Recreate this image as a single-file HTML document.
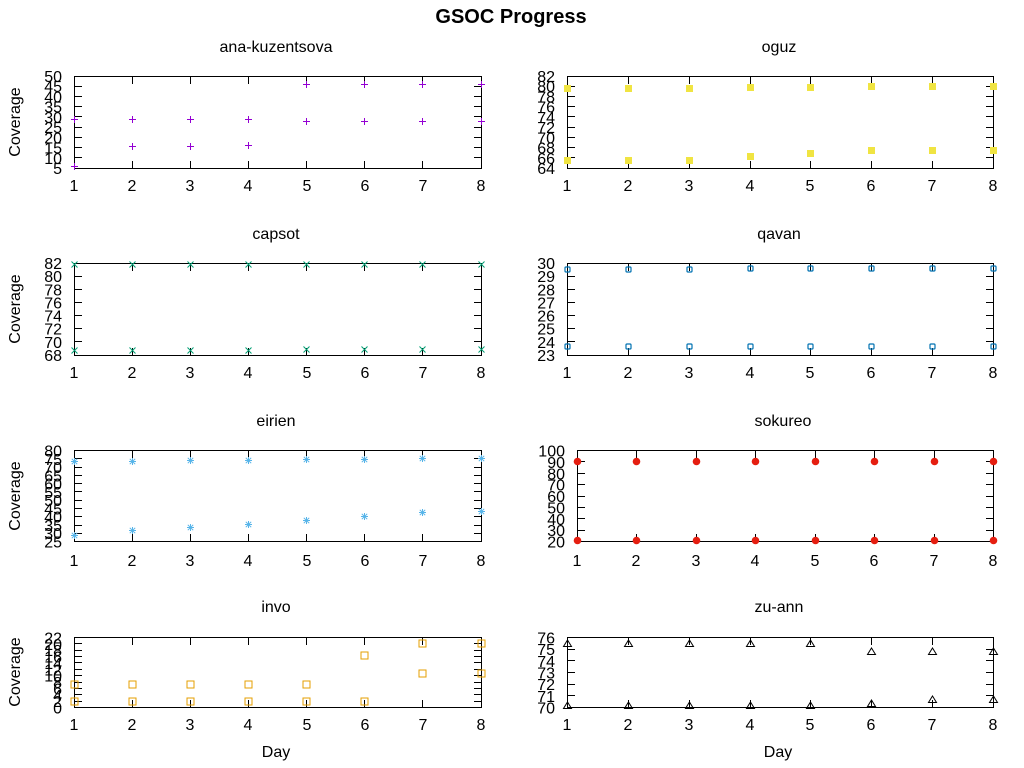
<!DOCTYPE html>
<html><head><meta charset="utf-8"><style>
html,body{margin:0;padding:0;background:#fff;}
svg{display:block;}
text{font-family:"Liberation Sans",Arial,sans-serif;fill:#000;}
</style></head><body>
<svg width="1024" height="768" viewBox="0 0 1024 768" xmlns="http://www.w3.org/2000/svg">
<defs>
<path id="mPlus" d="M-3.5,0h7M0,-3.5v7" stroke="#9400d3" stroke-width="1" fill="none"/>
<path id="mCross" d="M-3,-3L3,3M-3,3L3,-3" stroke="#009e73" stroke-width="1" fill="none"/>
<path id="mStar" d="M-3.5,0h7M0,-3.5v7M-2.7,-2.7L2.7,2.7M-2.7,2.7L2.7,-2.7" stroke="#56b4e9" stroke-width="1" fill="none"/>
<rect id="mOSq" x="-3.5" y="-3.5" width="7" height="7" stroke="#e69f00" stroke-width="1" fill="none"/>
<rect id="mFSq" x="-3.5" y="-3.5" width="7" height="7" fill="#f0e442"/>
<rect id="mOCi" x="-2.5" y="-2.5" width="5" height="5" rx="1" stroke="#0072b2" stroke-width="1.2" fill="none"/>
<circle id="mFCi" r="3.8" fill="#e51e10"/>
<path id="mTri" d="M0,-3.5L4,3L-4,3Z" stroke="#000" stroke-width="1" fill="none"/>
</defs>

<text x="511" y="23" font-size="20" font-weight="bold" text-anchor="middle">GSOC Progress</text>

<!-- ===== Panel 1: ana-kuzentsova ===== -->
<text x="276" y="52" font-size="16" text-anchor="middle">ana-kuzentsova</text>
<text transform="translate(20,122) rotate(-90)" font-size="16" text-anchor="middle">Coverage</text>
<rect x="74.5" y="76.5" width="407" height="92" fill="none" stroke="#000" stroke-width="1"/>
<path stroke="#000" stroke-width="1" fill="none" d="M74,157.5h8M482,157.5h-8M74,147.5h8M482,147.5h-8M74,137.5h8M482,137.5h-8M74,127.5h8M482,127.5h-8M74,116.5h8M482,116.5h-8M74,106.5h8M482,106.5h-8M74,96.5h8M482,96.5h-8M74,86.5h8M482,86.5h-8
M132.5,169v-8M132.5,76v8M190.5,169v-8M190.5,76v8M248.5,169v-8M248.5,76v8M306.5,169v-8M306.5,76v8M364.5,169v-8M364.5,76v8M422.5,169v-8M422.5,76v8"/>
<g font-size="16" text-anchor="end">
<text x="62" y="174">5</text><text x="62" y="163.8">10</text><text x="62" y="153.6">15</text><text x="62" y="143.3">20</text><text x="62" y="133.1">25</text><text x="62" y="122.9">30</text><text x="62" y="112.7">35</text><text x="62" y="102.4">40</text><text x="62" y="92.2">45</text><text x="62" y="82">50</text>
</g>
<g font-size="16" text-anchor="middle">
<text x="74" y="191">1</text><text x="132" y="191">2</text><text x="190" y="191">3</text><text x="248" y="191">4</text><text x="307" y="191">5</text><text x="365" y="191">6</text><text x="423" y="191">7</text><text x="481" y="191">8</text>
</g>
<use href="#mPlus" x="74.5" y="166.5"/><use href="#mPlus" x="74.5" y="119.5"/>
<use href="#mPlus" x="132.5" y="146.5"/><use href="#mPlus" x="132.5" y="119.5"/>
<use href="#mPlus" x="190.5" y="146.5"/><use href="#mPlus" x="190.5" y="119.5"/>
<use href="#mPlus" x="248.5" y="145.5"/><use href="#mPlus" x="248.5" y="119.5"/>
<use href="#mPlus" x="306.5" y="84.5"/><use href="#mPlus" x="306.5" y="121.5"/>
<use href="#mPlus" x="364.5" y="84.5"/><use href="#mPlus" x="364.5" y="121.5"/>
<use href="#mPlus" x="422.5" y="84.5"/><use href="#mPlus" x="422.5" y="121.5"/>
<use href="#mPlus" x="481.5" y="84.5"/><use href="#mPlus" x="481.5" y="121.5"/>

<!-- ===== Panel 2: oguz ===== -->
<text x="779" y="52" font-size="16" text-anchor="middle">oguz</text>
<rect x="567.5" y="76.5" width="426" height="92" fill="none" stroke="#000" stroke-width="1"/>
<path stroke="#000" stroke-width="1" fill="none" d="M567,157.5h8M994,157.5h-8M567,147.5h8M994,147.5h-8M567,137.5h8M994,137.5h-8M567,127.5h8M994,127.5h-8M567,116.5h8M994,116.5h-8M567,106.5h8M994,106.5h-8M567,96.5h8M994,96.5h-8M567,86.5h8M994,86.5h-8
M628.5,169v-8M628.5,76v8M689.5,169v-8M689.5,76v8M750.5,169v-8M750.5,76v8M810.5,169v-8M810.5,76v8M871.5,169v-8M871.5,76v8M932.5,169v-8M932.5,76v8"/>
<g font-size="16" text-anchor="end">
<text x="555" y="174">64</text><text x="555" y="163.8">66</text><text x="555" y="153.6">68</text><text x="555" y="143.3">70</text><text x="555" y="133.1">72</text><text x="555" y="122.9">74</text><text x="555" y="112.7">76</text><text x="555" y="102.4">78</text><text x="555" y="92.2">80</text><text x="555" y="82">82</text>
</g>
<g font-size="16" text-anchor="middle">
<text x="567" y="191">1</text><text x="628" y="191">2</text><text x="689" y="191">3</text><text x="750" y="191">4</text><text x="810" y="191">5</text><text x="871" y="191">6</text><text x="932" y="191">7</text><text x="993" y="191">8</text>
</g>
<use href="#mFSq" x="567.5" y="88.5"/><use href="#mFSq" x="567.5" y="160.5"/>
<use href="#mFSq" x="628.5" y="88.5"/><use href="#mFSq" x="628.5" y="160.5"/>
<use href="#mFSq" x="689.5" y="88.5"/><use href="#mFSq" x="689.5" y="160.5"/>
<use href="#mFSq" x="750.5" y="87.5"/><use href="#mFSq" x="750.5" y="156.5"/>
<use href="#mFSq" x="810.5" y="87.5"/><use href="#mFSq" x="810.5" y="153.5"/>
<use href="#mFSq" x="871.5" y="86.5"/><use href="#mFSq" x="871.5" y="150.5"/>
<use href="#mFSq" x="932.5" y="86.5"/><use href="#mFSq" x="932.5" y="150.5"/>
<use href="#mFSq" x="993.5" y="86.5"/><use href="#mFSq" x="993.5" y="150.5"/>

<!-- ===== Panel 3: capsot ===== -->
<text x="276" y="239" font-size="16" text-anchor="middle">capsot</text>
<text transform="translate(20,309) rotate(-90)" font-size="16" text-anchor="middle">Coverage</text>
<rect x="74.5" y="263.5" width="407" height="92" fill="none" stroke="#000" stroke-width="1"/>
<path stroke="#000" stroke-width="1" fill="none" d="M74,341.5h8M482,341.5h-8M74,328.5h8M482,328.5h-8M74,315.5h8M482,315.5h-8M74,302.5h8M482,302.5h-8M74,289.5h8M482,289.5h-8M74,276.5h8M482,276.5h-8
M132.5,356v-8M132.5,263v8M190.5,356v-8M190.5,263v8M248.5,356v-8M248.5,263v8M306.5,356v-8M306.5,263v8M364.5,356v-8M364.5,263v8M422.5,356v-8M422.5,263v8"/>
<g font-size="16" text-anchor="end">
<text x="62" y="361">68</text><text x="62" y="347.9">70</text><text x="62" y="334.7">72</text><text x="62" y="321.6">74</text><text x="62" y="308.4">76</text><text x="62" y="295.3">78</text><text x="62" y="282.1">80</text><text x="62" y="269">82</text>
</g>
<g font-size="16" text-anchor="middle">
<text x="74" y="378">1</text><text x="132" y="378">2</text><text x="190" y="378">3</text><text x="248" y="378">4</text><text x="307" y="378">5</text><text x="365" y="378">6</text><text x="423" y="378">7</text><text x="481" y="378">8</text>
</g>
<use href="#mCross" x="74.5" y="264.5"/><use href="#mCross" x="74.5" y="350.5"/>
<use href="#mCross" x="132.5" y="264.5"/><use href="#mCross" x="132.5" y="350.5"/>
<use href="#mCross" x="190.5" y="264.5"/><use href="#mCross" x="190.5" y="350.5"/>
<use href="#mCross" x="248.5" y="264.5"/><use href="#mCross" x="248.5" y="350.5"/>
<use href="#mCross" x="306.5" y="264.5"/><use href="#mCross" x="306.5" y="349.5"/>
<use href="#mCross" x="364.5" y="264.5"/><use href="#mCross" x="364.5" y="349.5"/>
<use href="#mCross" x="422.5" y="264.5"/><use href="#mCross" x="422.5" y="349.5"/>
<use href="#mCross" x="481.5" y="264.5"/><use href="#mCross" x="481.5" y="349.5"/>

<!-- ===== Panel 4: qavan ===== -->
<text x="779" y="239" font-size="16" text-anchor="middle">qavan</text>
<rect x="567.5" y="263.5" width="426" height="92" fill="none" stroke="#000" stroke-width="1"/>
<path stroke="#000" stroke-width="1" fill="none" d="M567,341.5h8M994,341.5h-8M567,328.5h8M994,328.5h-8M567,315.5h8M994,315.5h-8M567,302.5h8M994,302.5h-8M567,289.5h8M994,289.5h-8M567,276.5h8M994,276.5h-8
M628.5,356v-8M628.5,263v8M689.5,356v-8M689.5,263v8M750.5,356v-8M750.5,263v8M810.5,356v-8M810.5,263v8M871.5,356v-8M871.5,263v8M932.5,356v-8M932.5,263v8"/>
<g font-size="16" text-anchor="end">
<text x="555" y="361">23</text><text x="555" y="347.9">24</text><text x="555" y="334.7">25</text><text x="555" y="321.6">26</text><text x="555" y="308.4">27</text><text x="555" y="295.3">28</text><text x="555" y="282.1">29</text><text x="555" y="269">30</text>
</g>
<g font-size="16" text-anchor="middle">
<text x="567" y="378">1</text><text x="628" y="378">2</text><text x="689" y="378">3</text><text x="750" y="378">4</text><text x="810" y="378">5</text><text x="871" y="378">6</text><text x="932" y="378">7</text><text x="993" y="378">8</text>
</g>
<use href="#mOCi" x="567.5" y="269.5"/><use href="#mOCi" x="567.5" y="346.5"/>
<use href="#mOCi" x="628.5" y="269.5"/><use href="#mOCi" x="628.5" y="346.5"/>
<use href="#mOCi" x="689.5" y="269.5"/><use href="#mOCi" x="689.5" y="346.5"/>
<use href="#mOCi" x="750.5" y="268.5"/><use href="#mOCi" x="750.5" y="346.5"/>
<use href="#mOCi" x="810.5" y="268.5"/><use href="#mOCi" x="810.5" y="346.5"/>
<use href="#mOCi" x="871.5" y="268.5"/><use href="#mOCi" x="871.5" y="346.5"/>
<use href="#mOCi" x="932.5" y="268.5"/><use href="#mOCi" x="932.5" y="346.5"/>
<use href="#mOCi" x="993.5" y="268.5"/><use href="#mOCi" x="993.5" y="346.5"/>

<!-- ===== Panel 5: eirien ===== -->
<text x="276" y="426" font-size="16" text-anchor="middle">eirien</text>
<text transform="translate(20,496) rotate(-90)" font-size="16" text-anchor="middle">Coverage</text>
<rect x="74.5" y="450.5" width="407" height="91" fill="none" stroke="#000" stroke-width="1"/>
<path stroke="#000" stroke-width="1" fill="none" d="M74,533.5h8M482,533.5h-8M74,525.5h8M482,525.5h-8M74,516.5h8M482,516.5h-8M74,508.5h8M482,508.5h-8M74,500.5h8M482,500.5h-8M74,491.5h8M482,491.5h-8M74,483.5h8M482,483.5h-8M74,475.5h8M482,475.5h-8M74,467.5h8M482,467.5h-8M74,458.5h8M482,458.5h-8
M132.5,542v-8M132.5,450v8M190.5,542v-8M190.5,450v8M248.5,542v-8M248.5,450v8M306.5,542v-8M306.5,450v8M364.5,542v-8M364.5,450v8M422.5,542v-8M422.5,450v8"/>
<g font-size="16" text-anchor="end">
<text x="62" y="547.5">25</text><text x="62" y="539.2">30</text><text x="62" y="531">35</text><text x="62" y="522.7">40</text><text x="62" y="514.4">45</text><text x="62" y="506.1">50</text><text x="62" y="497.9">55</text><text x="62" y="489.6">60</text><text x="62" y="481.3">65</text><text x="62" y="473.1">70</text><text x="62" y="464.8">75</text><text x="62" y="456.5">80</text>
</g>
<g font-size="16" text-anchor="middle">
<text x="74" y="566">1</text><text x="132" y="566">2</text><text x="190" y="566">3</text><text x="248" y="566">4</text><text x="307" y="566">5</text><text x="365" y="566">6</text><text x="423" y="566">7</text><text x="481" y="566">8</text>
</g>
<use href="#mStar" x="74.5" y="461.5"/><use href="#mStar" x="74.5" y="535.5"/>
<use href="#mStar" x="132.5" y="461.5"/><use href="#mStar" x="132.5" y="530.5"/>
<use href="#mStar" x="190.5" y="460.5"/><use href="#mStar" x="190.5" y="527.5"/>
<use href="#mStar" x="248.5" y="460.5"/><use href="#mStar" x="248.5" y="524.5"/>
<use href="#mStar" x="306.5" y="459.5"/><use href="#mStar" x="306.5" y="520.5"/>
<use href="#mStar" x="364.5" y="459.5"/><use href="#mStar" x="364.5" y="516.5"/>
<use href="#mStar" x="422.5" y="458.5"/><use href="#mStar" x="422.5" y="512.5"/>
<use href="#mStar" x="481.5" y="458.5"/><use href="#mStar" x="481.5" y="511.5"/>

<!-- ===== Panel 6: sokureo ===== -->
<text x="783" y="426" font-size="16" text-anchor="middle">sokureo</text>
<rect x="577.5" y="450.5" width="416" height="91" fill="none" stroke="#000" stroke-width="1"/>
<path stroke="#000" stroke-width="1" fill="none" d="M577,530.5h8M994,530.5h-8M577,518.5h8M994,518.5h-8M577,507.5h8M994,507.5h-8M577,496.5h8M994,496.5h-8M577,484.5h8M994,484.5h-8M577,473.5h8M994,473.5h-8M577,461.5h8M994,461.5h-8
M636.5,542v-8M636.5,450v8M696.5,542v-8M696.5,450v8M755.5,542v-8M755.5,450v8M815.5,542v-8M815.5,450v8M874.5,542v-8M874.5,450v8M934.5,542v-8M934.5,450v8"/>
<g font-size="16" text-anchor="end">
<text x="565" y="547.5">20</text><text x="565" y="536.1">30</text><text x="565" y="524.8">40</text><text x="565" y="513.4">50</text><text x="565" y="502">60</text><text x="565" y="490.6">70</text><text x="565" y="479.3">80</text><text x="565" y="467.9">90</text><text x="565" y="456.5">100</text>
</g>
<g font-size="16" text-anchor="middle">
<text x="577" y="566">1</text><text x="636" y="566">2</text><text x="696" y="566">3</text><text x="755" y="566">4</text><text x="815" y="566">5</text><text x="874" y="566">6</text><text x="934" y="566">7</text><text x="993" y="566">8</text>
</g>
<use href="#mFCi" x="577.5" y="461.5"/><use href="#mFCi" x="577.5" y="540.5"/>
<use href="#mFCi" x="636.5" y="461.5"/><use href="#mFCi" x="636.5" y="540.5"/>
<use href="#mFCi" x="696.5" y="461.5"/><use href="#mFCi" x="696.5" y="540.5"/>
<use href="#mFCi" x="755.5" y="461.5"/><use href="#mFCi" x="755.5" y="540.5"/>
<use href="#mFCi" x="815.5" y="461.5"/><use href="#mFCi" x="815.5" y="540.5"/>
<use href="#mFCi" x="874.5" y="461.5"/><use href="#mFCi" x="874.5" y="540.5"/>
<use href="#mFCi" x="934.5" y="461.5"/><use href="#mFCi" x="934.5" y="540.5"/>
<use href="#mFCi" x="993.5" y="461.5"/><use href="#mFCi" x="993.5" y="540.5"/>

<!-- ===== Panel 7: invo ===== -->
<text x="276" y="612" font-size="16" text-anchor="middle">invo</text>
<text transform="translate(20,672) rotate(-90)" font-size="16" text-anchor="middle">Coverage</text>
<rect x="74.5" y="637.5" width="407" height="70" fill="none" stroke="#000" stroke-width="1"/>
<path stroke="#000" stroke-width="1" fill="none" d="M74,701.5h8M482,701.5h-8M74,694.5h8M482,694.5h-8M74,688.5h8M482,688.5h-8M74,682.5h8M482,682.5h-8M74,675.5h8M482,675.5h-8M74,669.5h8M482,669.5h-8M74,662.5h8M482,662.5h-8M74,656.5h8M482,656.5h-8M74,650.5h8M482,650.5h-8M74,643.5h8M482,643.5h-8
M132.5,708v-8M132.5,637v8M190.5,708v-8M190.5,637v8M248.5,708v-8M248.5,637v8M306.5,708v-8M306.5,637v8M364.5,708v-8M364.5,637v8M422.5,708v-8M422.5,637v8"/>
<g font-size="16" text-anchor="end">
<text x="62" y="713.5">0</text><text x="62" y="707.1">2</text><text x="62" y="700.8">4</text><text x="62" y="694.4">6</text><text x="62" y="688">8</text><text x="62" y="681.7">10</text><text x="62" y="675.3">12</text><text x="62" y="669">14</text><text x="62" y="662.6">16</text><text x="62" y="656.2">18</text><text x="62" y="649.9">20</text><text x="62" y="643.5">22</text>
</g>
<g font-size="16" text-anchor="middle">
<text x="74" y="730">1</text><text x="132" y="730">2</text><text x="190" y="730">3</text><text x="248" y="730">4</text><text x="307" y="730">5</text><text x="365" y="730">6</text><text x="423" y="730">7</text><text x="481" y="730">8</text>
</g>
<text x="276" y="757" font-size="16" text-anchor="middle">Day</text>
<use href="#mOSq" x="74.5" y="684.5"/><use href="#mOSq" x="74.5" y="701.5"/>
<use href="#mOSq" x="132.5" y="684.5"/><use href="#mOSq" x="132.5" y="701.5"/>
<use href="#mOSq" x="190.5" y="684.5"/><use href="#mOSq" x="190.5" y="701.5"/>
<use href="#mOSq" x="248.5" y="684.5"/><use href="#mOSq" x="248.5" y="701.5"/>
<use href="#mOSq" x="306.5" y="684.5"/><use href="#mOSq" x="306.5" y="701.5"/>
<use href="#mOSq" x="364.5" y="655.5"/><use href="#mOSq" x="364.5" y="701.5"/>
<use href="#mOSq" x="422.5" y="643.5"/><use href="#mOSq" x="422.5" y="673.5"/>
<use href="#mOSq" x="481.5" y="643.5"/><use href="#mOSq" x="481.5" y="673.5"/>

<!-- ===== Panel 8: zu-ann ===== -->
<text x="779" y="612" font-size="16" text-anchor="middle">zu-ann</text>
<rect x="567.5" y="637.5" width="426" height="70" fill="none" stroke="#000" stroke-width="1"/>
<path stroke="#000" stroke-width="1" fill="none" d="M567,695.5h8M994,695.5h-8M567,684.5h8M994,684.5h-8M567,672.5h8M994,672.5h-8M567,660.5h8M994,660.5h-8M567,649.5h8M994,649.5h-8
M628.5,708v-8M628.5,637v8M689.5,708v-8M689.5,637v8M750.5,708v-8M750.5,637v8M810.5,708v-8M810.5,637v8M871.5,708v-8M871.5,637v8M932.5,708v-8M932.5,637v8"/>
<g font-size="16" text-anchor="end">
<text x="555" y="713.5">70</text><text x="555" y="701.8">71</text><text x="555" y="690.2">72</text><text x="555" y="678.5">73</text><text x="555" y="666.8">74</text><text x="555" y="655.2">75</text><text x="555" y="643.5">76</text>
</g>
<g font-size="16" text-anchor="middle">
<text x="567" y="730">1</text><text x="628" y="730">2</text><text x="689" y="730">3</text><text x="750" y="730">4</text><text x="810" y="730">5</text><text x="871" y="730">6</text><text x="932" y="730">7</text><text x="993" y="730">8</text>
</g>
<text x="778" y="757" font-size="16" text-anchor="middle">Day</text>
<use href="#mTri" x="567.5" y="643.5"/><use href="#mTri" x="567.5" y="705.5"/>
<use href="#mTri" x="628.5" y="643.5"/><use href="#mTri" x="628.5" y="705.5"/>
<use href="#mTri" x="689.5" y="643.5"/><use href="#mTri" x="689.5" y="705.5"/>
<use href="#mTri" x="750.5" y="643.5"/><use href="#mTri" x="750.5" y="705.5"/>
<use href="#mTri" x="810.5" y="643.5"/><use href="#mTri" x="810.5" y="705.5"/>
<use href="#mTri" x="871.5" y="651.5"/><use href="#mTri" x="871.5" y="703.5"/>
<use href="#mTri" x="932.5" y="651.5"/><use href="#mTri" x="932.5" y="699.5"/>
<use href="#mTri" x="993.5" y="651.5"/><use href="#mTri" x="993.5" y="699.5"/>
</svg>
</body></html>
